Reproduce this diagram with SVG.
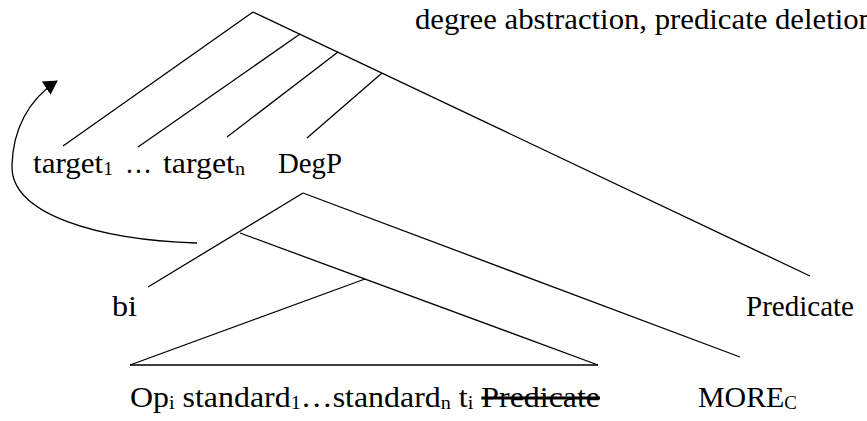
<svg xmlns="http://www.w3.org/2000/svg" width="867" height="421" viewBox="0 0 867 421">
<style>
.t{font-family:"Liberation Serif","Times New Roman",serif;font-size:30px;fill:#000}
.s{font-size:19px}
.e line,.e path{stroke:#000;stroke-width:1.3;fill:none}
</style>
<defs>
<marker id="ah" markerWidth="14" markerHeight="16" refX="13" refY="8" orient="auto" markerUnits="userSpaceOnUse" viewBox="0 0 14 16">
<path d="M0,0 L14,8 L0,16 z" fill="#000"/>
</marker>
</defs>
<rect width="867" height="421" fill="#fff"/>
<g class="e" id="connectors">
<line x1="253" y1="12" x2="63" y2="146"/>
<line x1="253" y1="12" x2="810" y2="276"/>
<line x1="300" y1="34" x2="138" y2="147"/>
<line x1="338" y1="52" x2="227" y2="137"/>
<line x1="382" y1="73" x2="307" y2="138"/>
<line x1="303" y1="193" x2="148" y2="287"/>
<line x1="303" y1="193" x2="740" y2="357"/>
<line x1="240" y1="233" x2="598" y2="365"/>
<line x1="130" y1="365" x2="365" y2="279"/>
<line x1="130" y1="365" x2="598" y2="365"/>
<path d="M197,243 C100,240 10,215 12,165 C13,130 28,100 57,81" marker-end="url(#ah)"/>
</g>
<g id="label-top"><text class="t" x="415" y="29" textLength="459" lengthAdjust="spacingAndGlyphs">degree abstraction, predicate deletion</text></g>
<g id="node-target1"><text class="t" x="33" y="173" textLength="80" lengthAdjust="spacingAndGlyphs">target<tspan class="s" baseline-shift="-2">1</tspan></text></g>
<g id="node-ellipsis"><text class="t" x="125" y="173" textLength="27" lengthAdjust="spacingAndGlyphs">…</text></g>
<g id="node-targetn"><text class="t" x="163" y="173" textLength="82" lengthAdjust="spacingAndGlyphs">target<tspan class="s" baseline-shift="-2">n</tspan></text></g>
<g id="node-degp"><text class="t" x="278" y="173" textLength="64" lengthAdjust="spacingAndGlyphs">DegP</text></g>
<g id="node-bi"><text class="t" x="112" y="316" textLength="25" lengthAdjust="spacingAndGlyphs">bi</text></g>
<g id="node-predicate"><text class="t" x="746" y="316" textLength="108" lengthAdjust="spacingAndGlyphs">Predicate</text></g>
<g id="node-standard"><text class="t" x="130" y="407" textLength="470" lengthAdjust="spacingAndGlyphs">Op<tspan class="s" baseline-shift="-2">i</tspan> standard<tspan class="s" baseline-shift="-2">1</tspan>…standard<tspan class="s" baseline-shift="-2">n</tspan> t<tspan class="s" baseline-shift="-2">i</tspan> <tspan text-decoration="line-through">Predicate</tspan></text></g>
<g id="node-more"><text class="t" x="698" y="407" textLength="99" lengthAdjust="spacingAndGlyphs">MORE<tspan class="s" baseline-shift="-2">C</tspan></text></g>
</svg>
